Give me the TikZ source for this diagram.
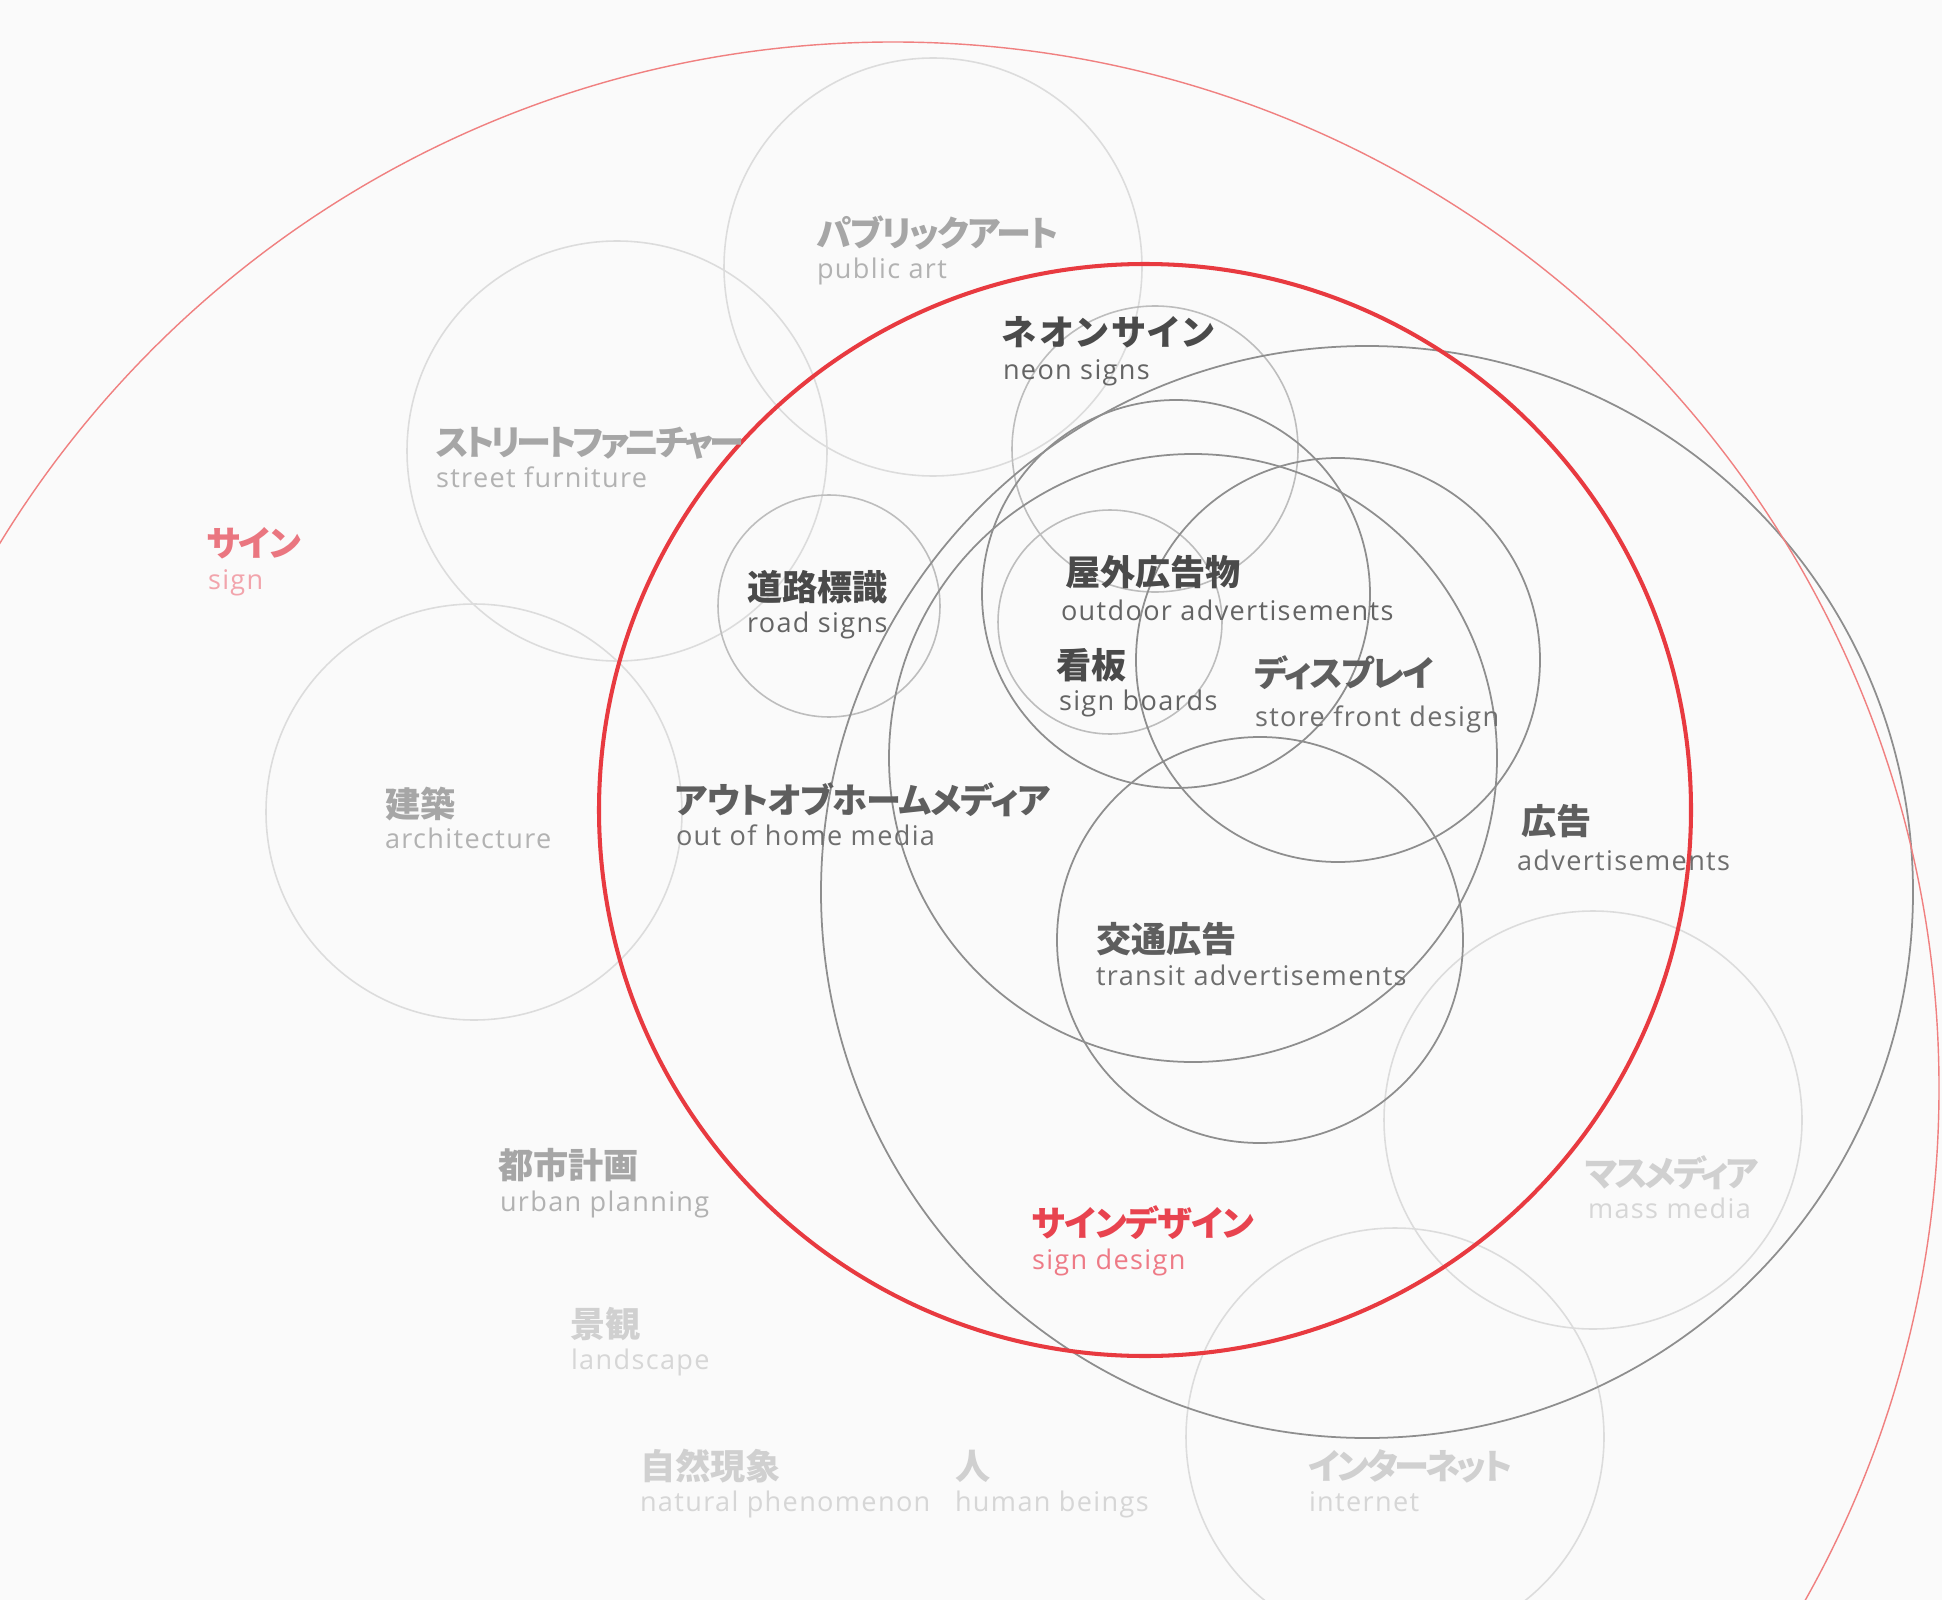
\documentclass[tikz,border=0pt]{standalone}
\usepackage{fontspec}
\newfontfamily\jpfont{Noto Sans CJK JP}[RawFeature=+palt]
\newfontfamily\enfont{Open Sans}[LetterSpace=5]
\definecolor{bg}{HTML}{FAFAFA}
\definecolor{ringlight}{HTML}{DCDCDC}
\definecolor{ringmid}{HTML}{BDBDBD}
\definecolor{ringdark}{HTML}{8E8E8E}
\definecolor{redthick}{HTML}{E83A40}
\definecolor{redthin}{HTML}{F08080}
\definecolor{jpdarkc}{HTML}{4A4A4A}
\definecolor{endarkc}{HTML}{646464}
\definecolor{jpmidc}{HTML}{5E5E5E}
\definecolor{enmidc}{HTML}{6E6E6E}
\definecolor{jplightc}{HTML}{A6A6A6}
\definecolor{enlightc}{HTML}{B2B2B2}
\definecolor{jppalec}{HTML}{D0D0D0}
\definecolor{enpalec}{HTML}{D6D6D6}
\definecolor{jpredc}{HTML}{E8434F}
\definecolor{enredc}{HTML}{EE7A86}
\definecolor{jppinkc}{HTML}{EA7680}
\definecolor{enpinkc}{HTML}{F2A4AC}
\tikzset{
  lbl/.style={anchor=base west, inner sep=0pt, outer sep=0pt},
  jp/.style={lbl, font=\jpfont\bfseries\fontsize{10}{12}\selectfont\addfontfeature{LetterSpace=#1}},
  jp/.default=0,
  en/.style={lbl, font=\enfont\fontsize{7.7}{9}\selectfont},
  ringL/.style={draw=ringlight, line width=0.45pt},
  ringM/.style={draw=ringmid, line width=0.45pt},
  ringD/.style={draw=ringdark, line width=0.5pt},
  ringRed/.style={draw=redthick, line width=1.15pt},
  ringRedThin/.style={draw=redthin, line width=0.4pt},
}
\begin{document}
\begin{tikzpicture}[x=0.01cm,y=-0.01cm]
\useasboundingbox (0,0) rectangle (1942,1600);
\fill[bg] (0,0) rectangle (1942,1600);
\begin{scope}
\clip (0,0) rectangle (1942,1600);
% light outer circles
\draw[ringL] (933,267) circle[radius=209];
\draw[ringL] (617,451) circle[radius=210];
\draw[ringL] (474,812) circle[radius=208];
\draw[ringL] (1593,1120) circle[radius=209];
\draw[ringL] (1395,1437) circle[radius=209];
% medium circles
\draw[ringM] (829,606) circle[radius=111];
\draw[ringM] (1155,449) circle[radius=143];
\draw[ringM] (1110,622) circle[radius=112];
% dark circles
\draw[ringD] (1367,892) circle[radius=546];
\draw[ringD] (1176,594) circle[radius=194];
\draw[ringD] (1193,758) circle[radius=304];
\draw[ringD] (1338,660) circle[radius=202];
\draw[ringD] (1260,940) circle[radius=203];
% red circles
\draw[ringRedThin] (893,1088) circle[radius=1046];
\draw[ringRed] (1145,810) circle[radius=546];
\end{scope}
% labels
\node[jp=-4.5, text=jplightc] (jpPublic) at (817,247) {パブリックアート};
\node[en, text=enlightc] (enPublic) at (817,278) {public art};
\node[jp=8.5, text=jpdarkc] (jpNeon) at (1002,345) {ネオンサイン};
\node[en, text=endarkc] (enNeon) at (1003,379) {neon signs};
\node[jp=-11, text=jplightc] (jpStreet) at (436,455) {ストリートファニチャー};
\node[en, text=enlightc] (enStreet) at (436,487) {street furniture};
\node[jp=-5, text=jppinkc] (jpSign) at (207,556) {サイン};
\node[en, text=enpinkc] (enSign) at (208,589) {sign};
\node[jp, text=jpdarkc] (jpRoad) at (747,600) {道路標識};
\node[en, text=endarkc] (enRoad) at (747,632) {road signs};
\node[jp, text=jpdarkc] (jpOutdoor) at (1065,585) {屋外広告物};
\node[en, text=endarkc] (enOutdoor) at (1061,620) {outdoor advertisements};
\node[jp, text=jpdarkc] (jpBoard) at (1056,678) {看板};
\node[en, text=endarkc] (enBoard) at (1059,710) {sign boards};
\node[jp=-5.7, text=jpmidc] (jpDisplay) at (1255,686) {ディスプレイ};
\node[en, text=enmidc] (enDisplay) at (1255,726) {store front design};
\node[jp, text=jplightc] (jpArch) at (385,817) {建築};
\node[en, text=enlightc] (enArch) at (385,848) {architecture};
\node[jp=-2.3, text=jpmidc] (jpOoh) at (675,813) {アウトオブホームメディア};
\node[en, text=enmidc] (enOoh) at (676,845) {out of home media};
\node[jp, text=jpmidc] (jpAd) at (1521,834) {広告};
\node[en, text=enmidc] (enAd) at (1517,870) {advertisements};
\node[jp, text=jpmidc] (jpTransit) at (1096,952) {交通広告};
\node[en, text=enmidc] (enTransit) at (1096,985) {transit advertisements};
\node[jp, text=jplightc] (jpUrban) at (498,1178) {都市計画};
\node[en, text=enlightc] (enUrban) at (500,1211) {urban planning};
\node[jp=-8.5, text=jppalec] (jpMass) at (1585,1186) {マスメディア};
\node[en, text=enpalec] (enMass) at (1588,1218) {mass media};
\node[jp=-3.4, text=jpredc] (jpDesign) at (1032,1236) {サインデザイン};
\node[en, text=enredc] (enDesign) at (1032,1269) {sign design};
\node[jp, text=jppalec] (jpLand) at (570,1337) {景観};
\node[en, text=enpalec] (enLand) at (571,1369) {landscape};
\node[jp, text=jppalec] (jpNature) at (640,1479) {自然現象};
\node[en, text=enpalec] (enNature) at (640,1511) {natural phenomenon};
\node[jp, text=jppalec] (jpHuman) at (955,1479) {人};
\node[en, text=enpalec] (enHuman) at (955,1511) {human beings};
\node[jp=-9.5, text=jppalec] (jpNet) at (1309,1479) {インターネット};
\node[en, text=enpalec] (enNet) at (1309,1511) {internet};
\end{tikzpicture}
\end{document}
